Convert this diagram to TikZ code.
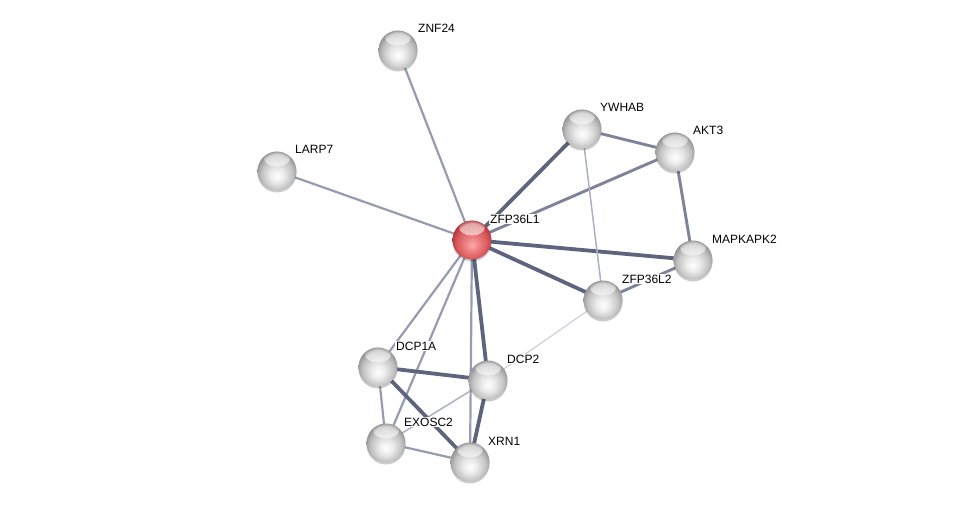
\documentclass[tikz,border=0pt]{standalone}
\usepackage{fontspec}
\setmainfont{Liberation Sans}
\usetikzlibrary{fadings,shadows}
\pgfdeclarelayer{bg}
\pgfsetlayers{bg,main}
\pgfdeclareradialshading{greyball}{\pgfpoint{0bp}{-7bp}}{%
  color(0bp)=(white); color(9bp)=(white!92!black); color(20bp)=(white!76!black);
  color(27bp)=(white!58!black); color(32bp)=(white!42!black); color(50bp)=(white!42!black)}
\pgfdeclareradialshading{redball}{\pgfpoint{0bp}{-7bp}}{%
  color(0bp)=(rgb,255:red,250;green,170;blue,170); color(9bp)=(rgb,255:red,238;green,128;blue,130);
  color(20bp)=(rgb,255:red,215;green,88;blue,92); color(27bp)=(rgb,255:red,180;green,50;blue,55);
  color(32bp)=(rgb,255:red,140;green,30;blue,35); color(50bp)=(rgb,255:red,140;green,30;blue,35)}
\tikzset{
  ball/.style={circle, minimum size=39pt, inner sep=0pt, shading=greyball,
    drop shadow={shadow xshift=0pt, shadow yshift=-2pt, opacity=0.2, fill=black},
    path picture={\fill[white, opacity=0.55, path fading=circle with fuzzy edge 20 percent]
      ([yshift=-7pt]path picture bounding box.north) ellipse (13pt and 8pt);}},
  redballst/.style={ball, shading=redball},
  lab/.style={anchor=base west, font=\fontsize{12}{14}\selectfont, inner sep=1pt, fill=white},
  ethick/.style={line width=3.8pt, draw={rgb,255:red,95;green,100;blue,126}},
  emed/.style={line width=2.9pt, draw={rgb,255:red,126;green,131;blue,155}},
  elite/.style={line width=2.2pt, draw={rgb,255:red,150;green,155;blue,176}},
  ethin/.style={line width=1.5pt, draw={rgb,255:red,172;green,176;blue,195}},
  efaint/.style={line width=1.2pt, draw={rgb,255:red,205;green,208;blue,218}},
}
\begin{document}
\begin{tikzpicture}[x=1pt,y=-1pt]
\useasboundingbox (0,0) rectangle (975,508);
\node[ball] (ZNF24) at (398,50) {};
\node[ball] (LARP7) at (277,171) {};
\node[ball] (YWHAB) at (582,129) {};
\node[ball] (AKT3) at (675,152) {};
\node[redballst] (ZFP36L1) at (472,240) {};
\node[ball] (MAPKAPK2) at (693,260) {};
\node[ball] (ZFP36L2) at (603,300) {};
\node[ball] (DCP1A) at (378,367) {};
\node[ball] (DCP2) at (488,380) {};
\node[ball] (EXOSC2) at (386,443) {};
\node[ball] (XRN1) at (470,462) {};

\node[lab] (tZNF24) at (417,33) {ZNF24};
\node[lab] (tLARP7) at (294,154) {LARP7};
\node[lab] (tYWHAB) at (599,112) {YWHAB};
\node[lab] (tAKT3) at (692,135) {AKT3};
\node[lab] (tZFP36L1) at (489,223) {ZFP36L1};
\node[lab] (tMAPKAPK2) at (711,243) {MAPKAPK2};
\node[lab] (tZFP36L2) at (621,283) {ZFP36L2};
\node[lab] (tDCP1A) at (395,350) {DCP1A};
\node[lab] (tDCP2) at (506,363) {DCP2};
\node[lab] (tEXOSC2) at (403,426) {EXOSC2};
\node[lab] (tXRN1) at (487,445) {XRN1};

\begin{pgfonlayer}{bg}
\draw[elite] (ZFP36L1.center) -- (ZNF24.center);
\draw[elite] (ZFP36L1.center) -- (LARP7.center);
\draw[ethick] (ZFP36L1.center) -- (YWHAB.center);
\draw[emed] (ZFP36L1.center) -- (AKT3.center);
\draw[ethick] (ZFP36L1.center) -- (MAPKAPK2.center);
\draw[ethick] (ZFP36L1.center) -- (ZFP36L2.center);
\draw[emed] (YWHAB.center) -- (AKT3.center);
\draw[ethin] (YWHAB.center) -- (ZFP36L2.center);
\draw[emed] (AKT3.center) -- (MAPKAPK2.center);
\draw[emed] (MAPKAPK2.center) -- (ZFP36L2.center);
\draw[efaint] (ZFP36L2.center) -- (DCP2.center);
\draw[ethin] (DCP2.center) -- (EXOSC2.center);
\draw[elite] (ZFP36L1.center) -- (DCP1A.center);
\draw[elite] (ZFP36L1.center) -- (EXOSC2.center);
\draw[elite] (ZFP36L1.center) -- (XRN1.center);
\draw[ethick] (ZFP36L1.center) -- (DCP2.center);
\draw[ethick] (DCP1A.center) -- (DCP2.center);
\draw[ethick] (DCP1A.center) -- (XRN1.center);
\draw[elite] (DCP1A.center) -- (EXOSC2.center);
\draw[ethick] (DCP2.center) -- (XRN1.center);
\draw[elite] (EXOSC2.center) -- (XRN1.center);
\end{pgfonlayer}
\end{tikzpicture}
\end{document}
